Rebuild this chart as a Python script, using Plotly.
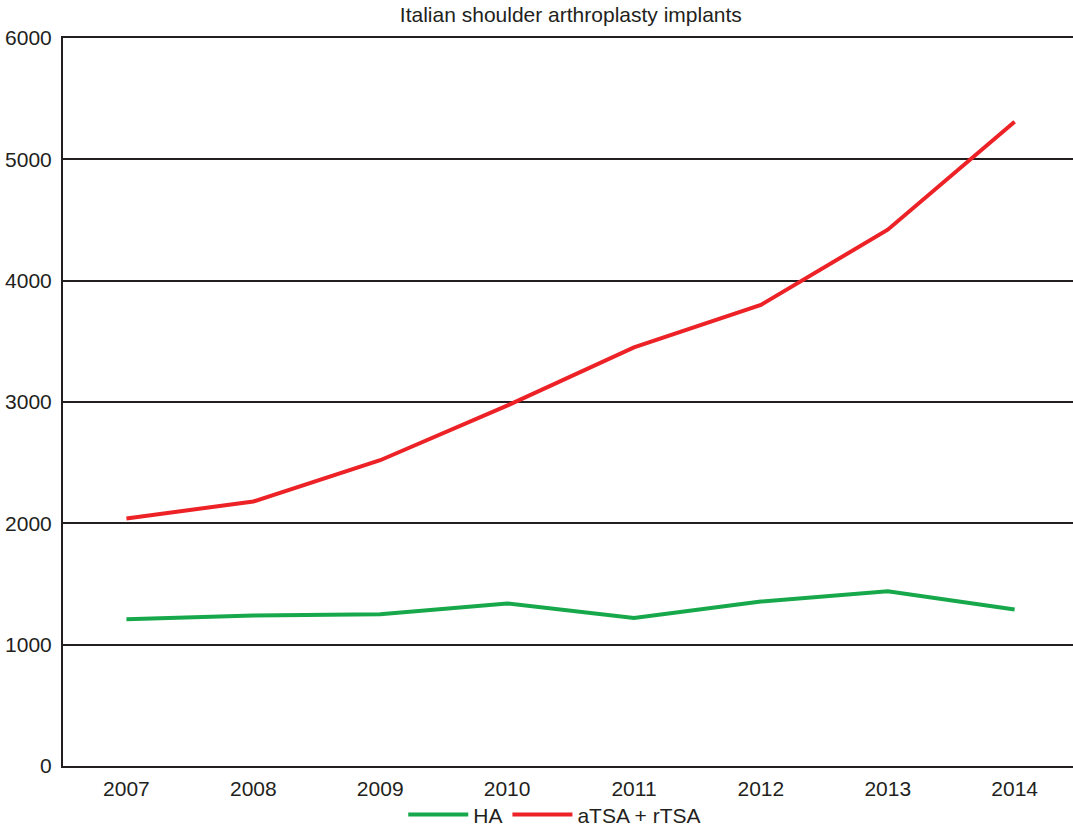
import plotly.graph_objects as go

years = [2007, 2008, 2009, 2010, 2011, 2012, 2013, 2014]
ha = [1210, 1240, 1250, 1340, 1220, 1355, 1440, 1290]
tsa = [2040, 2180, 2520, 2970, 3450, 3800, 4420, 5310]
y_ticks = [0, 1000, 2000, 3000, 4000, 5000, 6000]

fig = go.Figure()
fig.add_trace(go.Scatter(x=years, y=ha, mode="lines", name="HA",
                         line=dict(color="#16a84a", width=4)))
fig.add_trace(go.Scatter(x=years, y=tsa, mode="lines", name="aTSA + rTSA",
                         line=dict(color="#ec2227", width=4)))

fig.update_layout(
    width=1073, height=828,
    margin=dict(l=63, r=0, t=38, b=62),
    paper_bgcolor="white", plot_bgcolor="white",
    font=dict(family="Liberation Sans, Arial, sans-serif", color="#231f20", size=21),
    title=dict(text="Italian shoulder arthroplasty implants", x=0.532, xanchor="center",
               y=0.982, yanchor="middle", font=dict(size=21)),
    showlegend=True,
    legend=dict(orientation="h", xref="container", yref="container",
                x=0.517, xanchor="center", y=0.016, yanchor="middle",
                bgcolor="rgba(0,0,0,0)",
                font=dict(size=21), itemwidth=60, tracegroupgap=0),
    xaxis=dict(range=[2006.5, 2014.46], tickmode="array", tickvals=years,
               ticktext=[str(y) for y in years], showgrid=False, zeroline=False,
               showline=True, linecolor="#231f20", linewidth=2, mirror=True,
               ticks="outside", ticklen=3, tickcolor="white", fixedrange=True,
               tickfont=dict(size=21), automargin=False),
    yaxis=dict(range=[0, 6000], tickmode="array", tickvals=y_ticks,
               showgrid=True, gridcolor="#231f20", gridwidth=1.5, zeroline=False,
               showline=True, linecolor="#231f20", linewidth=2, ticks="outside",
               ticklen=5, tickcolor="white", fixedrange=True,
               tickfont=dict(size=21), automargin=False),
)

fig.write_html("out.html")
